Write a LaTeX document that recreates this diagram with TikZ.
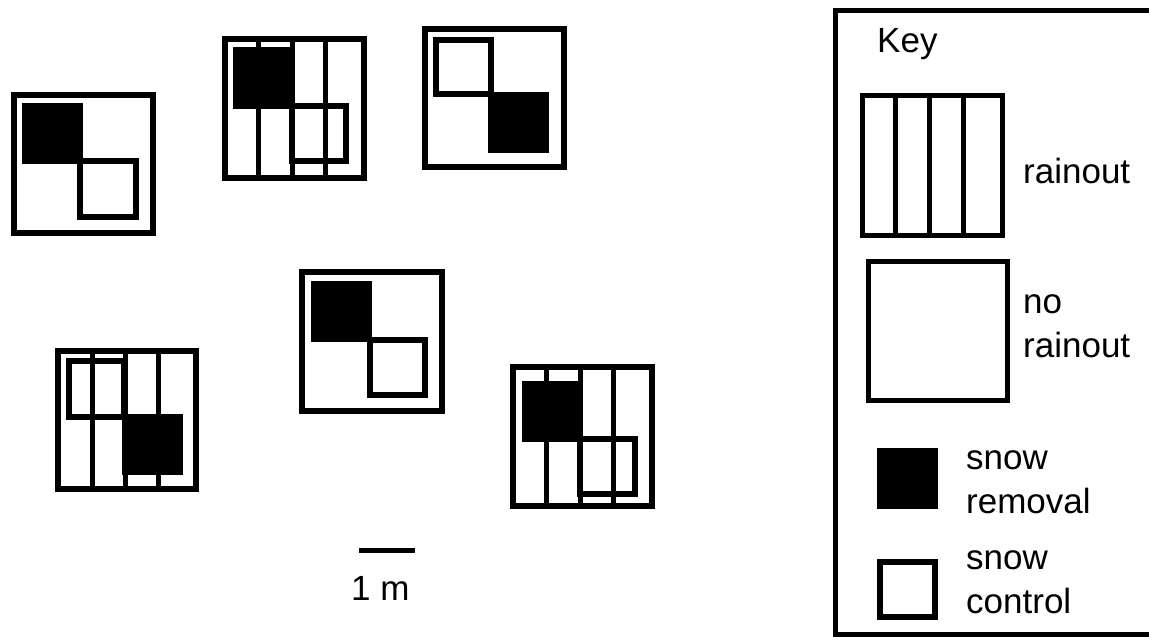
\documentclass[tikz,border=0pt]{standalone}
\usepackage{fontspec}
\setmainfont{Liberation Sans}
\usetikzlibrary{positioning,calc}

\tikzset{
  plot/.style={draw, line width=5.5pt},
  rainline/.style={line width=5pt},
  control/.style={draw, line width=5.5pt},
  removal/.style={fill=black},
  keytext/.style={font=\fontsize{35}{43.5}\selectfont, inner sep=0pt, anchor=base west, align=left},
}

\begin{document}
\begin{tikzpicture}[x=1pt, y=-1pt]
      \useasboundingbox (0,0) rectangle (1149,637);
      % plot 1, no rainout
      \draw[plot] (14,95) rectangle (153,233);
      \fill[removal] (22,103) rectangle (83,164);
      \draw[control] (80,161) rectangle (136,217);
      % plot 2, rainout
      \draw[plot] (225,39) rectangle (364,178);
      \foreach \x in {258,292,325}
        \draw[rainline] (\x,39) -- (\x,178);
      \fill[removal] (233,47) rectangle (293,109);
      \draw[control] (292,106) rectangle (346,161);
      % plot 3, no rainout
      \draw[plot] (425,29) rectangle (564,167);
      \draw[control] (436,40) rectangle (491,94);
      \fill[removal] (488,92) rectangle (549,153);
      % plot 4, rainout
      \draw[plot] (58,351) rectangle (196,489);
      \foreach \x in {92,125,158}
        \draw[rainline] (\x,351) -- (\x,489);
      \draw[control] (69,361) rectangle (124,417);
      \fill[removal] (122,414) rectangle (183,475);
      % plot 5, no rainout
      \draw[plot] (302,272) rectangle (442,411);
      \fill[removal] (311,281) rectangle (372,342);
      \draw[control] (370,340) rectangle (425,395);
      % plot 6, rainout
      \draw[plot] (513,367) rectangle (652,506);
      \foreach \x in {546,580,613}
        \draw[rainline] (\x,367) -- (\x,506);
      \fill[removal] (522,381) rectangle (583,442);
      \draw[control] (580,439) rectangle (635,494);
      % scale bar
      \coordinate (barl) at (359,550.5);
      \coordinate (barr) at (415,550.5);
      \draw[line width=5pt] (barl) -- (barr);
      \node[keytext] (scale) at (351,600) {1 m};
      % key
      \draw[line width=5pt] (1152,10.5) -- (835,10.5) -- (835,634.5) -- (1152,634.5);
      \node[keytext] (key) at (877,52) {Key};
      \node[draw, line width=5pt, minimum width=140pt, minimum height=140pt, inner sep=0pt] (keyrain) at (932,165) {};
      \foreach \f in {0.245,0.48,0.72}
        \draw[rainline] ($(keyrain.north west)!\f!(keyrain.north east)$) -- ($(keyrain.south west)!\f!(keyrain.south east)$);
      \node[keytext] (rainlabel) at (1023,183) {rainout};
      \node[draw, line width=5pt, minimum width=139pt, minimum height=139pt, inner sep=0pt] (keynorain) at (937.5,330.5) {};
      \node[keytext] (norainlabel) at (1023,357) {no\\rainout};
      \node[fill=black, minimum size=61pt, inner sep=0pt] (keyremoval) at (907.5,478) {};
      \node[keytext] (removallabel) at (966,513) {snow\\removal};
      \node[draw, line width=5.5pt, minimum size=55pt, inner sep=0pt] (keycontrol) at (907.5,589.5) {};
      \node[keytext] (controllabel) at (966,613) {snow\\control};
\end{tikzpicture}
\end{document}
